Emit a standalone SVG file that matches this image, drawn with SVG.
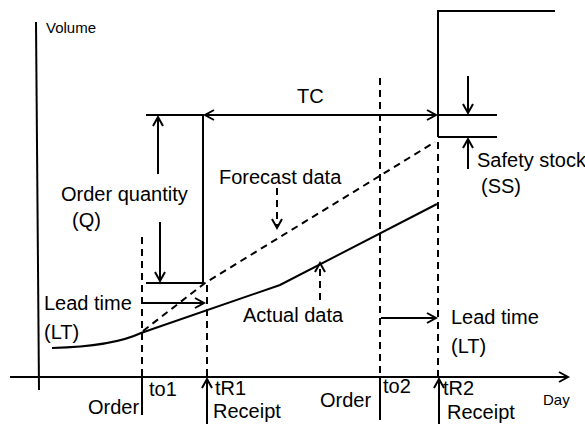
<svg xmlns="http://www.w3.org/2000/svg" width="585" height="425" viewBox="0 0 585 425">
<style>
.s{stroke:#000;stroke-width:2;fill:none}
.d{stroke:#000;stroke-width:2;fill:none;stroke-dasharray:7 5}
.t{font-family:"Liberation Sans",Arial,sans-serif;font-size:20px;fill:#000}
.sm{font-family:"Liberation Sans",Arial,sans-serif;font-size:15px;fill:#000}
</style>
<defs>
<marker id="ah" markerUnits="userSpaceOnUse" markerWidth="12" markerHeight="12" refX="9" refY="5" orient="auto-start-reverse" overflow="visible">
<path d="M0,0 L9,5 L0,10" fill="none" stroke="#000" stroke-width="2"/>
</marker>
</defs>
<rect width="585" height="425" fill="#fff"/>
<g id="axes">
<line class="s" x1="36" y1="22" x2="39" y2="390"/>
<line class="s" x1="10" y1="377" x2="568" y2="377" marker-end="url(#ah)"/>
<text class="sm" x="46" y="33">Volume</text>
<text class="sm" x="543" y="405">Day</text>
</g>
<g id="curves">
<path class="s" d="M52,348 C90,347 120,343 141,333 L280,285 L437,204" stroke-width="2.4"/>
<polyline class="d" points="143,331 205,283 435,142"/>
</g>
<g id="inventory">
<line class="s" x1="146" y1="115" x2="204" y2="115"/>
<line class="s" x1="203" y1="115" x2="203" y2="283"/>
<line class="s" x1="146" y1="283" x2="203" y2="283"/>
<line class="s" x1="438" y1="11" x2="438" y2="137"/>
<line class="s" x1="437" y1="11" x2="555" y2="11"/>
<line class="s" x1="438" y1="115" x2="497" y2="115"/>
<line class="s" x1="438" y1="137" x2="497" y2="137"/>
</g>
<g id="connectors">
<line class="s" x1="205" y1="115" x2="436" y2="115" marker-start="url(#ah)" marker-end="url(#ah)"/>
<line class="s" x1="158" y1="174" x2="158" y2="117" marker-end="url(#ah)"/>
<line class="s" x1="160" y1="222" x2="160" y2="281" marker-end="url(#ah)"/>
<line class="s" x1="468" y1="76" x2="468" y2="113" marker-end="url(#ah)"/>
<line class="s" x1="468" y1="169" x2="468" y2="139" marker-end="url(#ah)"/>
<line class="s" x1="143" y1="303" x2="204" y2="303" marker-end="url(#ah)"/>
<line class="s" x1="381" y1="318" x2="436" y2="318" marker-end="url(#ah)"/>
<line class="d" x1="277" y1="188" x2="277" y2="226"/>
<path class="s" d="M272,219 L277,228 L282,219"/>
<line class="d" x1="320" y1="300" x2="320" y2="265"/>
<path class="s" d="M315,272 L320,263 L325,272"/>
</g>
<g id="timeline">
<line class="d" x1="142" y1="237" x2="142" y2="377"/>
<line class="s" x1="142" y1="377" x2="142" y2="415"/>
<line class="d" x1="207" y1="285" x2="207" y2="377"/>
<line class="s" x1="207" y1="424" x2="207" y2="379" marker-end="url(#ah)"/>
<line class="d" x1="380" y1="78" x2="380" y2="377"/>
<line class="s" x1="380" y1="377" x2="380" y2="420"/>
<line class="d" x1="438" y1="142" x2="438" y2="377"/>
<line class="s" x1="439" y1="424" x2="439" y2="379" marker-end="url(#ah)"/>
</g>
<g id="labels">
<text class="t" x="297" y="103" font-size="18">TC</text>
<text class="t" x="61" y="201">Order quantity</text>
<text class="t" x="72" y="227">(Q)</text>
<text class="t" x="219" y="184">Forecast data</text>
<text class="t" x="243" y="322">Actual data</text>
<text class="t" x="477" y="167">Safety stock</text>
<text class="t" x="481" y="193">(SS)</text>
<text class="t" x="44" y="310">Lead time</text>
<text class="t" x="44" y="339">(LT)</text>
<text class="t" x="451" y="324">Lead time</text>
<text class="t" x="451" y="353">(LT)</text>
<text class="t" x="149" y="396">to1</text>
<text class="t" x="88" y="414">Order</text>
<text class="t" x="215" y="395">tR1</text>
<text class="t" x="213" y="418">Receipt</text>
<text class="t" x="383" y="393">to2</text>
<text class="t" x="320" y="407">Order</text>
<text class="t" x="443" y="395">tR2</text>
<text class="t" x="447" y="419">Receipt</text>
</g>
</svg>
